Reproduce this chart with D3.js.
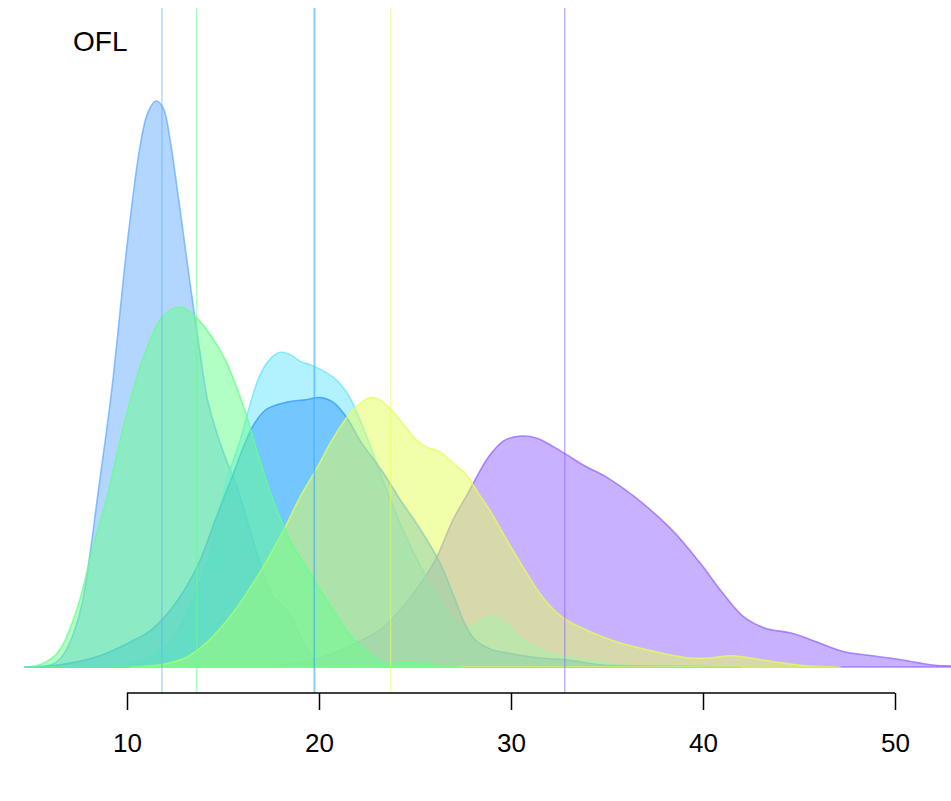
<!DOCTYPE html>
<html><head><meta charset="utf-8">
<script src="https://cdn.jsdelivr.net/npm/d3@7"></script>
<style>html,body{margin:0;padding:0;background:#fff;}svg{display:block;}</style>
</head><body>
<svg id="chart" width="951" height="801"></svg>
<script>
// ---- data ----
const seriesNames = ["s1", "s2", "s3", "s4", "s5", "s6"];
const seriesColors = ["#66adff", "#66ff8c", "#66e6ff", "#3399ff", "#e6ff55", "#9166ff"];
const panelLabel = "OFL";
const tickValues = [10, 20, 30, 40, 50];

const s1x = [4.69,6.04,6.56,6.98,7.34,7.71,8.59,8.96,9.27,9.64,10.0,10.68,11.09,11.51,11.88,12.24,12.60,13.02,13.39,13.80,14.17,14.58,15.10,15.63,16.15,16.77,17.29,17.71,18.13,18.65,19.01,19.38,19.90,20.57,21.35];
const s1y = [0,0.001,0.004,0.010,0.018,0.030,0.083,0.106,0.127,0.157,0.186,0.230,0.245,0.250,0.247,0.233,0.212,0.186,0.163,0.139,0.119,0.106,0.093,0.082,0.068,0.050,0.037,0.030,0.027,0.021,0.014,0.008,0.002,0.0004,0];

const s2x = [4.69,5.21,5.73,6.25,6.67,7.03,7.45,7.86,8.23,8.59,8.96,9.64,10.31,11.04,11.88,12.76,13.54,14.32,15.10,15.78,16.30,16.93,17.60,18.49,19.27,20.05,20.83,21.61,22.50,23.33,24.22,25.26,26.30,27.34];
const s2y = [0,0.0004,0.002,0.005,0.010,0.017,0.027,0.040,0.053,0.064,0.075,0.100,0.122,0.141,0.155,0.159,0.155,0.147,0.136,0.122,0.109,0.091,0.074,0.056,0.045,0.034,0.024,0.014,0.007,0.002,0.002,0.002,0.0004,0];

const s3x = [8.59,10.16,12.08,13.13,14.17,15.21,15.89,16.41,16.93,17.45,17.97,18.49,19.01,19.69,20.73,21.46,22.14,22.66,23.18,23.96,24.74,25.52,26.30,26.93,27.50,28.13,28.75,29.27,29.79,30.47,31.51,32.55,34.11,35.68,37.76,39.84];
const s3y = [0,0.001,0.009,0.024,0.046,0.083,0.100,0.116,0.129,0.136,0.139,0.138,0.135,0.133,0.128,0.121,0.109,0.098,0.086,0.069,0.054,0.041,0.030,0.022,0.017,0.019,0.022,0.022,0.019,0.013,0.008,0.005,0.003,0.001,0.0004,0];

const s4x = [4.69,6.51,8.59,10.16,11.20,12.24,13.13,13.80,14.69,15.52,16.15,16.67,17.29,18.33,19.27,20.05,20.73,21.46,22.14,23.33,24.22,25.26,26.30,27.08,27.60,28.13,28.91,29.95,31.51,33.07,34.64,37.24,39.84,42.0];
const s4y = [0,0.001,0.005,0.011,0.016,0.025,0.036,0.047,0.067,0.085,0.099,0.108,0.114,0.117,0.118,0.119,0.117,0.110,0.100,0.086,0.074,0.061,0.046,0.030,0.019,0.012,0.008,0.006,0.004,0.003,0.001,0.0004,0.0002,0];

const s5x = [10.16,11.72,13.02,14.17,15.52,16.93,18.13,19.01,19.90,20.73,21.61,22.24,22.66,23.18,23.70,24.32,25.10,25.63,26.30,26.98,27.66,28.28,28.91,29.79,30.78,31.72,32.66,34.01,35.52,37.40,39.32,40.36,41.41,42.45,44.01,45.57,47.14];
const s5y = [0,0.001,0.004,0.011,0.024,0.042,0.060,0.075,0.088,0.101,0.112,0.117,0.119,0.118,0.114,0.108,0.100,0.097,0.095,0.090,0.085,0.077,0.069,0.056,0.042,0.030,0.022,0.016,0.011,0.007,0.004,0.004,0.005,0.004,0.002,0.0004,0];

const s6x = [15.36,17.29,19.01,20.73,22.50,23.28,24.11,25.05,26.04,26.98,27.71,28.28,28.85,29.64,30.57,31.35,32.66,33.80,34.95,36.46,38.33,39.84,40.99,42.14,43.28,44.58,45.94,47.24,48.80,50.47,51.82,52.92,54.5];
const s6y = [0,0.0004,0.002,0.006,0.013,0.017,0.024,0.034,0.047,0.065,0.076,0.085,0.093,0.100,0.102,0.101,0.095,0.089,0.084,0.075,0.061,0.046,0.033,0.022,0.017,0.015,0.011,0.007,0.005,0.003,0.001,0.0004,0];

const meanValues = [11.82, 13.63, 19.80, 19.75, 23.73, 32.80];
// drawing order (bottom -> top)
const drawOrder = [5, 0, 2, 3, 4, 1];

// ---- build ----
const xs = [s1x, s2x, s3x, s4x, s5x, s6x];
const ys = [s1y, s2y, s3y, s4y, s5y, s6y];
const series = seriesNames.map((n, i) => ({
  name: n, color: seriesColors[i], mean: meanValues[i],
  pts: xs[i].map((x, j) => ({x: x, y: ys[i][j]}))
}));

const svg = d3.select("#chart");
const x = d3.scaleLinear().domain([10, 50]).range([127, 895]);
const y = d3.scaleLinear().domain([0, 0.25]).range([667, 101]);

const area = d3.area()
  .x(d => x(d.x)).y0(y(0)).y1(d => Math.min(y(0), y(d.y)))
  .curve(d3.curveCatmullRom.alpha(0.5));

const g = svg.append("g");
drawOrder.forEach(i => {
  const s = series[i];
  g.append("path")
    .datum(s.pts)
    .attr("d", area)
    .attr("fill", s.color)
    .attr("fill-opacity", 0.5)
    .attr("stroke", s.color)
    .attr("stroke-opacity", 0.75)
    .attr("stroke-width", 1.6)
    .attr("stroke-linejoin", "round");
});

// mean lines
series.forEach(s => {
  svg.append("line")
    .attr("x1", x(s.mean)).attr("x2", x(s.mean))
    .attr("y1", 8).attr("y2", 693)
    .attr("stroke", s.color)
    .attr("stroke-opacity", 0.5)
    .attr("stroke-width", 1.5);
});

// axis
const axis = d3.axisBottom(x).tickValues(tickValues).tickSize(17).tickPadding(24).tickFormat(d3.format("d"));
const ax = svg.append("g").attr("transform", "translate(0,693)").call(axis);
ax.select(".domain").attr("d", "M127,0H895").attr("stroke", "#000").attr("stroke-width", 1.5);
ax.selectAll(".tick line").attr("stroke", "#000").attr("stroke-width", 1.5);
ax.selectAll(".tick text")
  .attr("font-family", "Liberation Sans, Arial, sans-serif")
  .attr("font-size", 26)
  .attr("fill", "#000");

// panel label
svg.append("text")
  .attr("x", 73).attr("y", 51)
  .attr("font-family", "Liberation Sans, Arial, sans-serif")
  .attr("font-size", 28)
  .attr("fill", "#000")
  .text(panelLabel);
</script>
</body></html>
